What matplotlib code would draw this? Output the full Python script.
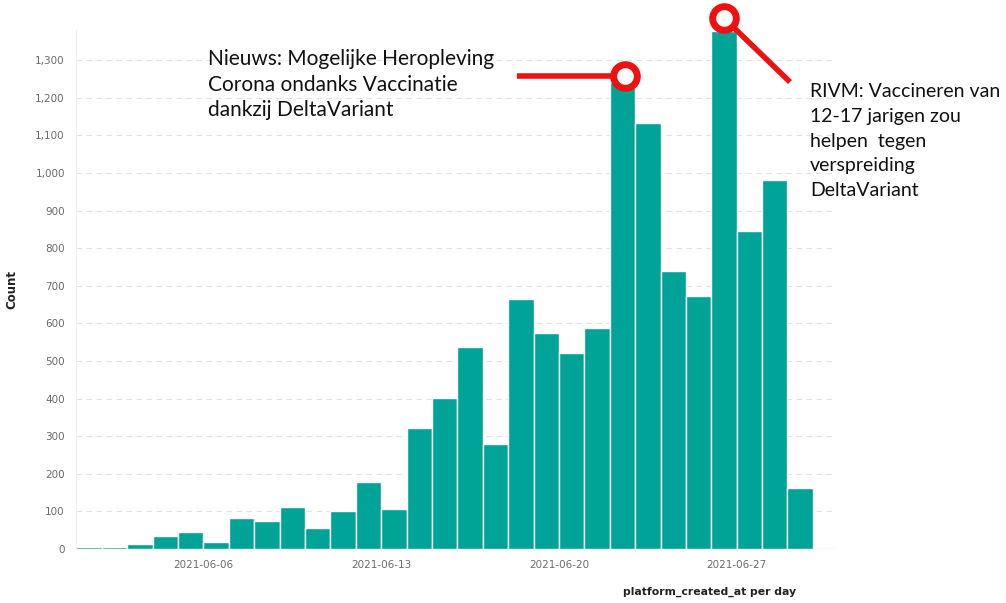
import matplotlib
matplotlib.use('Agg')
import matplotlib.pyplot as plt
import matplotlib.dates as mdates
from matplotlib.ticker import FuncFormatter, MultipleLocator
import numpy as np
import pandas as pd

# daily counts, 2021-06-01 .. 2021-06-29
days = pd.date_range('2021-06-01', '2021-06-29', freq='D')
counts = [6, 6, 12, 35, 44, 19, 82, 75, 112, 56, 102, 177, 106, 322, 401,
          537, 279, 665, 574, 521, 588, 1242, 1133, 739, 673, 1378, 846, 981, 162]
tick_days = ['2021-06-06', '2021-06-13', '2021-06-20', '2021-06-27']

note_left = "Nieuws: Mogelijke Heropleving\nCorona ondanks Vaccinatie\ndankzij DeltaVariant"
note_right = "RIVM: Vaccineren van\n12-17 jarigen zou\nhelpen  tegen\nverspreiding\nDeltaVariant"

teal = '#00a397'
grey = '#6b6b6b'

fig = plt.figure(figsize=(10.06, 6.03), dpi=100)
ax = fig.add_axes([0.0755, 0.0896, 0.7545, 0.8604])

x = mdates.date2num(days)
ax.bar(x, counts, width=1.0, align='edge', color=teal, edgecolor='white', linewidth=1.0)

ax.set_xlim(x[0] - 0.02, x[-1] + 1.87)
ax.set_ylim(0, 1380)
ax.yaxis.set_major_locator(MultipleLocator(100))
ax.yaxis.set_major_formatter(FuncFormatter(lambda v, p: f'{int(v):,}'))
ax.set_xticks(mdates.date2num(pd.to_datetime(tick_days)))
ax.set_xticklabels(tick_days)

ax.grid(axis='y', linestyle=(0, (5, 4)), color='#e2e2e2', linewidth=0.8)
ax.set_axisbelow(True)
for s in ['top', 'right', 'bottom']:
    ax.spines[s].set_visible(False)
ax.spines['left'].set_color('#eeeeee')
ax.axhline(0, color=teal, linewidth=0.8, zorder=1)
ax.tick_params(axis='both', length=0, labelsize=7.5, labelcolor=grey, pad=8)

ax.set_ylabel('Count', fontsize=8.5, fontweight='bold', color='#222222')
ax.yaxis.set_label_coords(-0.076, 0.5)
ax.set_xlabel('platform_created_at per day', fontsize=7.8, fontweight='bold',
              color='#222222', va='center')
ax.xaxis.set_label_coords(0.835, -0.082)

# red annotation markers on peaks
red = '#ee1111'
p1 = (x[21] + 0.6, 1258)
p2 = (x[25] + 0.5, 1412)
ax.plot([x[17] + 0.36, p1[0]], [p1[1], p1[1]], color=red, lw=4, solid_capstyle='butt',
        clip_on=False, zorder=5)
ax.plot([p2[0], x[28] + 0.1], [p2[1], 1242], color=red, lw=4, solid_capstyle='butt',
        clip_on=False, zorder=5)
for px, py in [p1, p2]:
    ax.plot(px, py, 'o', ms=17, mfc='white', mec=red, mew=5, clip_on=False, zorder=6)

fig.text(0.207, 0.918, note_left, fontsize=15, family='Lato', va='top',
         linespacing=1.33, color='#111111')
fig.text(0.805, 0.862, note_right, fontsize=14, family='Lato', va='top',
         linespacing=1.55, color='#111111')

fig.savefig('out.png', dpi=100)
